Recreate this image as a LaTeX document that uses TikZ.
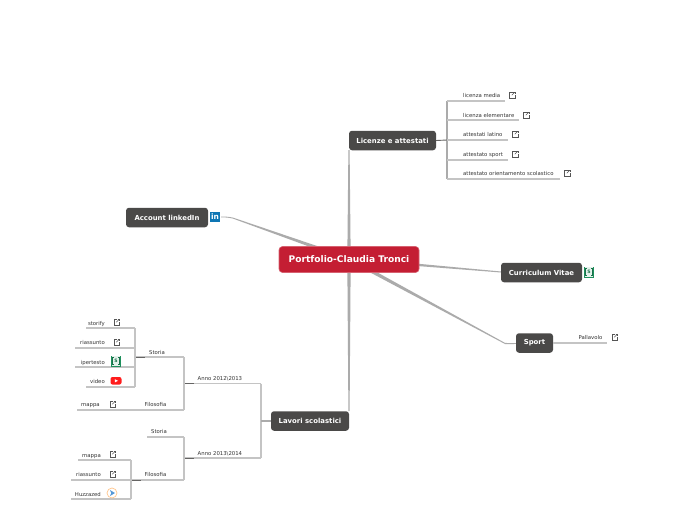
\documentclass[tikz,border=0pt]{standalone}
\usepackage{fontspec}
\setmainfont{DejaVu Sans}
\usetikzlibrary{calc,backgrounds}
\definecolor{rootred}{HTML}{C41E33}
\definecolor{darkbox}{HTML}{4A4948}
\definecolor{branch}{HTML}{ABABAB}
\definecolor{leafline}{HTML}{C4C4C4}
\definecolor{ink}{HTML}{333333}
\definecolor{sheet}{HTML}{1E8F5C}
\definecolor{linkedblue}{HTML}{0E76B4}
\definecolor{iconink}{HTML}{555555}
\tikzset{
  x=1pt,y=-1pt,
  rootbox/.style={fill=rootred,draw=rootred!70!white,line width=0.6pt,rounded corners=3.5pt,text=white,font=\bfseries\fontsize{9.1}{10}\selectfont,minimum width=140pt,minimum height=26pt,inner sep=0pt},
  topic/.style={fill=darkbox,rounded corners=3pt,text=white,font=\bfseries\fontsize{6.9}{8}\selectfont,minimum height=19.5pt,inner sep=0pt},
  leaf/.style={text=ink,font=\fontsize{5.35}{6}\selectfont,inner sep=0pt,anchor=base west},
  wire/.style={draw=leafline,line width=1.05pt},
  stub/.style={draw=darkbox!85!white,line width=0.9pt},
  extlink/.pic={
    \draw[iconink,line width=0.4pt] (0.6,-2.8) -- (-2.8,-2.8) -- (-2.8,2.8) -- (2.8,2.8) -- (2.8,-0.2);
    \draw[iconink,line width=0.4pt] (-0.2,0.2) -- (2.8,-2.8);
    \draw[iconink,line width=0.4pt] (1.2,-3.0) -- (3.0,-3.0) -- (3.0,-1.2);
  },
  sheeticon/.pic={
    \fill[sheet] (-5,-5.5) rectangle (5,5.5);
    \fill[white!88!sheet] (-4.1,-4.6) rectangle (4.1,4.6);
    \draw[sheet!80!black,line width=0.45pt] (-2.4,-3.6) -- (-3.3,-3.6) -- (-3.3,3.6) -- (-2.4,3.6);
    \draw[sheet!80!black,line width=0.45pt] (2.4,-3.6) -- (3.3,-3.6) -- (3.3,3.6) -- (2.4,3.6);
    \node[text=sheet!80!black,font=\bfseries\fontsize{4.6}{5}\selectfont,inner sep=0pt] (sgl) at (0,0) {S};
  },
}
% taper: root, root half-width vector, end, end half-width vector, colour
\newcommand{\taper}[5]{\fill[#5] ($(#1)+#2$) -- ($(#1)-#2$) -- ($(#3)-#4$) -- ($(#3)+#4$) -- cycle;}
\begin{document}
\begin{tikzpicture}
\useasboundingbox (0,0) rectangle (697,520);
% topics
\node[rootbox] (root) at (349,259.5) {Portfolio-Claudia Tronci};
\node[topic,minimum width=87pt] (lic) at (392.5,140.5) {Licenze e attestati};
\node[topic,minimum width=82pt] (acc) at (167,217.5) {Account linkedIn};
\node[topic,minimum width=81pt] (cv) at (541.5,272.5) {Curriculum Vitae};
\node[topic,minimum width=37pt] (spo) at (534.5,343) {Sport};
\node[topic,minimum width=78pt] (lav) at (310,421) {Lavori scolastici};
% anchors for main branches
\coordinate (rc) at (349,259);
\coordinate (licb) at (349,150);
\coordinate (lavt) at (349,411);
\coordinate (acce) at (221,217);
\coordinate (cve) at (501,272);
\coordinate (spoe) at (516,343.5);
\begin{scope}[on background layer]
\fill[white] (0,0) rectangle (697,520);
\taper{rc}{(1.7,0)}{licb}{(0.6,0)}{branch}
\taper{rc}{(1.7,0)}{lavt}{(0.6,0)}{branch}
\taper{rc}{(0,1.7)}{cve}{(0,0.5)}{branch}
\fill[branch] ($(rc)+(0,-2.2)$) -- ($(rc)+(0,2.2)$) -- (233,218.6) .. controls (228,217.4) and (226,217.4) .. ($(acce)+(0,0.4)$) -- ($(acce)+(0,-0.4)$) .. controls (226,216.6) and (228,216.6) .. (233,217.6) -- cycle;
\fill[branch] ($(rc)+(0,-2.2)$) -- ($(rc)+(0,2.2)$) -- (505,344) .. controls (510,344.2) and (512,344.2) .. ($(spoe)+(0,0.4)$) -- ($(spoe)+(0,-0.4)$) .. controls (512,343.2) and (510,343.2) .. (505,342.9) -- cycle;
\end{scope}
% Licenze leaves
\coordinate (lt) at (447,101);
\coordinate (lm) at (447,140);
\coordinate (lb) at (447,179);
\draw[draw=branch,line width=1.05pt] (lt) -- (lb);
\draw[stub] (lic.east) -- (lm);
\coordinate (l1) at (505,101); \coordinate (l2) at (519,120); \coordinate (l3) at (508,140);
\coordinate (l4) at (508,160); \coordinate (l5) at (560,179);
\coordinate (l2a) at (447,120); \coordinate (l4a) at (447,160);
\draw[wire] (lt) -- (l1); \draw[wire] (l2a) -- (l2); \draw[wire] (lm) -- (l3);
\draw[wire] (l4a) -- (l4); \draw[wire] (lb) -- (l5);
\node[leaf] (t1) at (463,97) {licenza media};
\node[leaf] (t2) at (463,117) {licenza elementare};
\node[leaf] (t3) at (463,136) {attestati latino};
\node[leaf] (t4) at (463,156) {attestato sport};
\node[leaf] (t5) at (463,175) {attestato orientamento scolastico};
\pic at (512,95) {extlink}; \pic at (526,115) {extlink}; \pic at (515,134) {extlink};
\pic at (515,154) {extlink}; \pic at (567,173) {extlink};
% Sport leaf
\coordinate (p1) at (607,343);
\draw[wire] (spo.east) -- (p1);
\node[leaf] (t6) at (578.5,339) {Pallavolo};
\pic at (614.5,337) {extlink};
% linkedin
\node[fill=linkedblue,text=white,font=\bfseries\fontsize{7.5}{8}\selectfont,minimum size=10pt,inner sep=0pt] (li) at (215,217) {in};
\pic at (589,272) {sheeticon};
% Lavori tree
\coordinate (y1) at (261,383.5); \coordinate (y2) at (261,458); \coordinate (ym) at (261,421);
\draw[wire] (y1) -- (y2);
\draw[branch,line width=1.05pt] (lav.west) -- (ym);
\coordinate (s0) at (184,357); \coordinate (s1) at (184,410); \coordinate (s2) at (184,383.5);
\draw[wire] (s2) -- (y1);
\draw[stub] (s2) -- ++(10,0);
\node[leaf] (a1) at (197.5,380) {Anno 2012\textbackslash 2013};
\draw[wire] (s0) -- (s1);
\coordinate (u0) at (135,357);
\draw[wire] (u0) -- (s0);
\draw[stub] (u0) -- ++(10,0);
\node[leaf] (st1) at (149,354) {Storia};
\coordinate (mp) at (77,410);
\draw[wire] (mp) -- (s1);
\node[leaf] (fi1) at (144.5,406) {Filosofia};
\node[leaf] (m1) at (81,406) {mappa};
\pic at (112.5,404) {extlink};
\coordinate (ut) at (135,328); \coordinate (ub) at (135,387);
\coordinate (um) at (135,348); \coordinate (un) at (135,367);
\draw[wire] (ut) -- (ub);
\coordinate (k1) at (86,328); \coordinate (k2) at (75,348); \coordinate (k3) at (75,367); \coordinate (k4) at (86,387);
\draw[wire] (k1) -- (ut); \draw[wire] (k2) -- (um); \draw[wire] (k3) -- (un); \draw[wire] (k4) -- (ub);
\node[leaf,anchor=base east] (n1) at (105,325) {storify};
\node[leaf,anchor=base east] (n2) at (105,344) {riassunto};
\node[leaf,anchor=base east] (n3) at (105,364) {ipertesto};
\node[leaf,anchor=base east] (n4) at (105,383) {video};
\pic at (116.5,322) {extlink}; \pic at (116.5,342) {extlink};
\pic at (116,361) {sheeticon};
\fill[red!85!pink,rounded corners=2pt] (110.5,377) rectangle (121.5,384.5);
\fill[white] (114.8,379.2) -- (118,380.8) -- (114.8,382.4) -- cycle;
% lower
\coordinate (v0) at (184,437); \coordinate (v1) at (184,480); \coordinate (v2) at (184,458);
\draw[wire] (v2) -- (y2);
\draw[stub] (v2) -- ++(10,0);
\node[leaf] (a2) at (197.5,455) {Anno 2013\textbackslash 2014};
\draw[wire] (v0) -- (v1);
\coordinate (w0) at (147,437);
\draw[wire] (w0) -- (v0);
\node[leaf] (st2) at (151,433) {Storia};
\coordinate (w1) at (131,480);
\draw[wire] (w1) -- (v1);
\draw[stub] (w1) -- ++(10,0);
\node[leaf] (fi2) at (144.5,476) {Filosofia};
\coordinate (h0) at (131,460); \coordinate (h1) at (131,499);
\draw[wire] (h0) -- (h1);
\coordinate (e1) at (78,460); \coordinate (e2) at (71,480); \coordinate (e3) at (71,499);
\draw[wire] (e1) -- (h0); \draw[wire] (e2) -- (w1); \draw[wire] (e3) -- (h1);
\node[leaf,anchor=base east] (r1) at (101,457) {mappa};
\node[leaf,anchor=base east] (r2) at (101,476) {riassunto};
\node[leaf,anchor=base east] (r3) at (101,496) {Huzzazed};
\pic at (112.5,454) {extlink}; \pic at (112.5,474) {extlink};
\draw[orange!45,fill=white,line width=0.7pt] (112,493) circle (5pt);
\fill[cyan!60!blue!70] (110,490) -- (115,493) -- (110,496) -- (111.2,493) -- cycle;
\end{tikzpicture}
\end{document}
